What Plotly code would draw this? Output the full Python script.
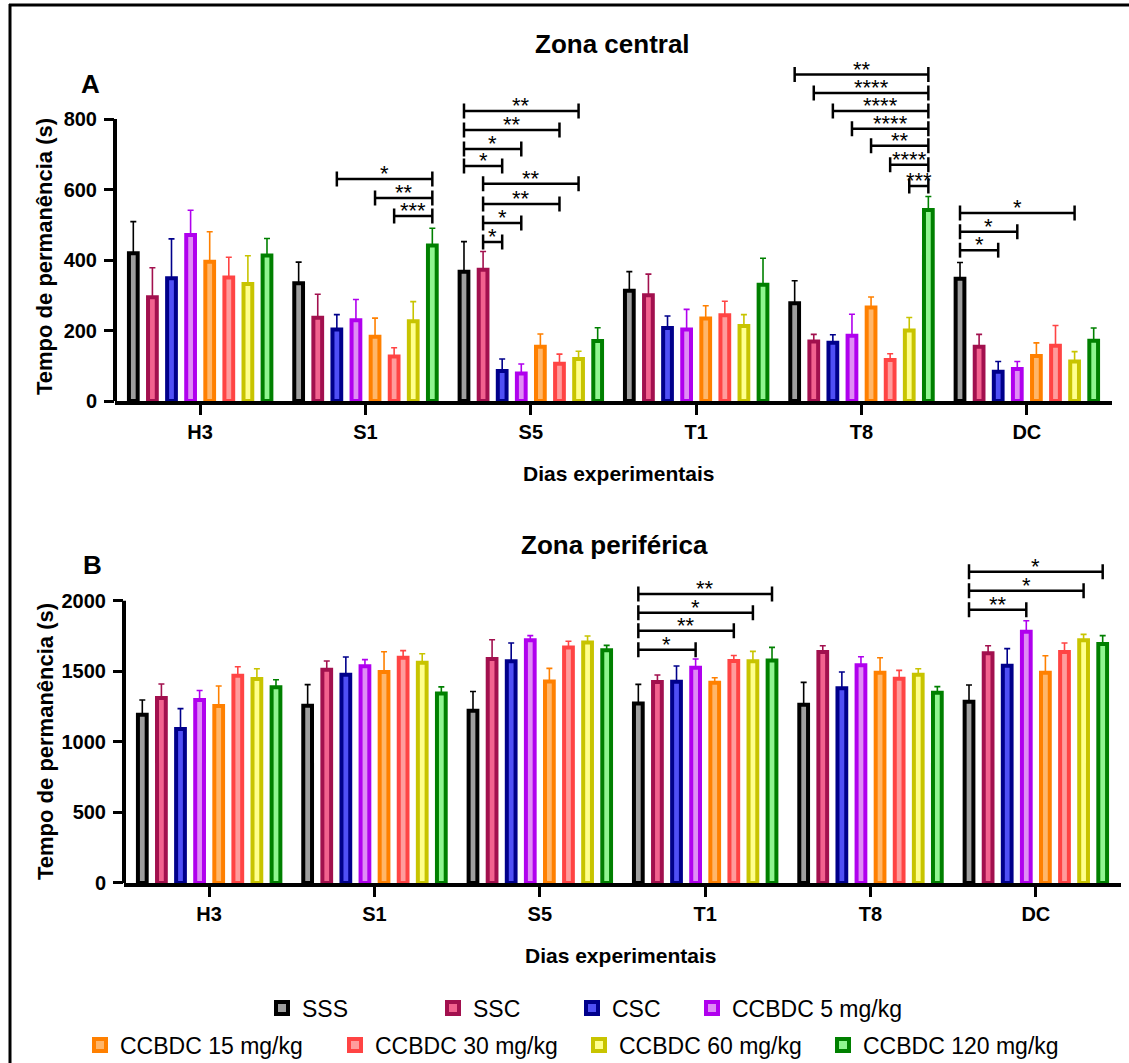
import plotly.graph_objects as go

W, H = 1129, 1063


def px(x):
    return x / W


def py(y):
    return 1 - y / H


# ---------------- data ----------------
days = ["H3", "S1", "S5", "T1", "T8", "DC"]
groups = ["SSS", "SSC", "CSC", "CCBDC 5 mg/kg", "CCBDC 15 mg/kg",
          "CCBDC 30 mg/kg", "CCBDC 60 mg/kg", "CCBDC 120 mg/kg"]

# Zona central (mean, SEM) per group, order of days
central_sss = [419, 334, 367, 313, 277, 347]
central_sss_sem = [90, 60, 85, 54, 64, 46]
central_ssc = [294, 236, 372, 300, 169, 154]
central_ssc_sem = [84, 67, 52, 60, 20, 35]
central_csc = [348, 203, 85, 207, 165, 83]
central_csc_sem = [112, 42, 34, 34, 23, 29]
central_c5 = [471, 229, 78, 203, 185, 91]
central_c5_sem = [70, 59, 27, 57, 61, 21]
central_c15 = [395, 182, 154, 234, 265, 128]
central_c15_sem = [85, 53, 36, 36, 30, 37]
central_c30 = [350, 126, 106, 243, 116, 157]
central_c30_sem = [58, 25, 27, 40, 18, 57]
central_c60 = [332, 226, 119, 213, 200, 112]
central_c60_sem = [80, 56, 22, 32, 37, 28]
central_c120 = [413, 441, 170, 330, 542, 171]
central_c120_sem = [48, 49, 38, 75, 38, 36]

# Zona periférica
perif_sss = [1192, 1256, 1221, 1272, 1263, 1284]
perif_sss_sem = [104, 149, 136, 135, 158, 119]
perif_ssc = [1310, 1511, 1587, 1424, 1636, 1627]
perif_ssc_sem = [100, 62, 136, 49, 45, 54]
perif_csc = [1091, 1476, 1570, 1426, 1379, 1539]
perif_csc_sem = [144, 125, 130, 111, 116, 121]
perif_c5 = [1296, 1535, 1719, 1525, 1542, 1780]
perif_c5_sem = [68, 47, 33, 62, 61, 78]
perif_c15 = [1254, 1495, 1428, 1419, 1490, 1490]
perif_c15_sem = [141, 143, 92, 35, 106, 120]
perif_c30 = [1468, 1596, 1669, 1573, 1447, 1636]
perif_c30_sem = [64, 50, 43, 39, 59, 64]
perif_c60 = [1445, 1560, 1704, 1570, 1476, 1719]
perif_c60_sem = [73, 64, 46, 71, 42, 42]
perif_c120 = [1386, 1343, 1648, 1577, 1348, 1693]
perif_c120_sem = [54, 46, 35, 92, 43, 59]

# significance: (day, group_from, group_to, bracket level, label)
central_sig = [
    ("S1", 2, 7, 630, "*"), ("S1", 4, 7, 576, "**"), ("S1", 5, 7, 525, "***"),
    ("S5", 0, 6, 823, "**"), ("S5", 0, 5, 769, "**"), ("S5", 0, 3, 715, "*"),
    ("S5", 0, 2, 667, "*"), ("S5", 1, 6, 616, "**"), ("S5", 1, 5, 559, "**"),
    ("S5", 1, 3, 505, "*"), ("S5", 1, 2, 451, "*"),
    ("T8", 0, 7, 926, "**"), ("T8", 1, 7, 874, "****"), ("T8", 2, 7, 823, "****"),
    ("T8", 3, 7, 772, "****"), ("T8", 4, 7, 724, "**"), ("T8", 5, 7, 670, "****"),
    ("T8", 6, 7, 610, "***"),
    ("DC", 0, 6, 533, "*"), ("DC", 0, 3, 480, "*"), ("DC", 0, 2, 428, "*"),
]
perif_sig = [
    ("T1", 0, 7, 2047, "**"), ("T1", 0, 6, 1915, "*"), ("T1", 0, 5, 1787, "**"),
    ("T1", 0, 3, 1653, "*"),
    ("DC", 0, 7, 2205, "*"), ("DC", 0, 6, 2071, "*"), ("DC", 0, 3, 1936, "**"),
]

# ---------------- styles ----------------
edge_colors = ["#000000", "#A2104E", "#00008B", "#B000EE",
               "#FF8000", "#FF4444", "#C8C400", "#008000"]
fill_colors = ["#9E9E9E", "#F2628F", "#4F4FF5", "#E08CF5",
               "#FFB66A", "#FF9C9C", "#FFFF8C", "#90F590"]

central_means = [central_sss, central_ssc, central_csc, central_c5,
                 central_c15, central_c30, central_c60, central_c120]
central_sems = [central_sss_sem, central_ssc_sem, central_csc_sem, central_c5_sem,
                central_c15_sem, central_c30_sem, central_c60_sem, central_c120_sem]
perif_means = [perif_sss, perif_ssc, perif_csc, perif_c5,
               perif_c15, perif_c30, perif_c60, perif_c120]
perif_sems = [perif_sss_sem, perif_ssc_sem, perif_csc_sem, perif_c5_sem,
              perif_c15_sem, perif_c30_sem, perif_c60_sem, perif_c120_sem]

STEP = 0.1155
BW = 0.0530
FONT = "Liberation Sans, Arial, Helvetica, sans-serif"


def xpos(day_idx, k):
    return day_idx + (k - 3.5) * STEP


fig = go.Figure()

legend_ids = ["legend"] + [f"legend{i}" for i in range(2, 9)]

for panel, (means, sems, xa, ya) in enumerate([
        (central_means, central_sems, "x", "y"),
        (perif_means, perif_sems, "x2", "y2")]):
    for k, name in enumerate(groups):
        fig.add_trace(go.Bar(
            x=[xpos(d, k) for d in range(len(days))],
            y=means[k],
            width=BW,
            name=name,
            marker=dict(color=fill_colors[k], line=dict(color=edge_colors[k], width=4)),
            error_y=dict(type="data", array=sems[k], arrayminus=[0] * len(days),
                         symmetric=False, color=edge_colors[k], thickness=1.6, width=3),
            xaxis=xa, yaxis=ya,
            showlegend=(panel == 0),
            legend=legend_ids[k],
        ))

shapes = []
annotations = []

# panel geometry (pixels)
TOP_Y0, TOP_YMAX = 401.0, 960
BOT_Y0, BOT_YMAX = 883.0, 2300
TOP_PPU = 0.3525
BOT_PPU = 0.14117

# brackets
for sig, xr, yr, ppu in [(central_sig, "x", "y", TOP_PPU),
                         (perif_sig, "x2", "y2", BOT_PPU)]:
    d = 7.5 / ppu
    for day, a, b, lvl, lab in sig:
        di = days.index(day)
        x0, x1 = xpos(di, a), xpos(di, b)
        ln = dict(color="black", width=2.5)
        shapes.append(dict(type="line", xref=xr, yref=yr, x0=x0, x1=x1, y0=lvl, y1=lvl, line=ln))
        shapes.append(dict(type="line", xref=xr, yref=yr, x0=x0, x1=x0, y0=lvl - d, y1=lvl + d, line=ln))
        shapes.append(dict(type="line", xref=xr, yref=yr, x0=x1, x1=x1, y0=lvl - d, y1=lvl + d, line=ln))
        annotations.append(dict(xref=xr, yref=yr, x=(x0 + x1) / 2, y=lvl, text=lab,
                                showarrow=False, yanchor="bottom", yshift=-9,
                                font=dict(family=FONT, size=22, color="black")))

# y axis lines (only up to the last tick)
shapes.append(dict(type="line", xref="paper", yref="y", x0=px(115), x1=px(115), y0=-6, y1=800,
                   line=dict(color="black", width=4)))
shapes.append(dict(type="line", xref="paper", yref="y2", x0=px(124), x1=px(124), y0=-14, y1=2000,
                   line=dict(color="black", width=4)))

# outer frame (left and top)
shapes.append(dict(type="line", xref="paper", yref="paper", x0=px(10), x1=px(10), y0=py(4), y1=0,
                   line=dict(color="black", width=3)))
shapes.append(dict(type="line", xref="paper", yref="paper", x0=px(9), x1=1, y0=py(5), y1=py(5),
                   line=dict(color="black", width=3)))


def text_ann(x, y, t, size, bold=True, angle=0):
    return dict(xref="paper", yref="paper", x=px(x), y=py(y), text=t, showarrow=False,
                xanchor="center", yanchor="middle", textangle=angle,
                font=dict(family=FONT, size=size, color="black",
                          weight="bold" if bold else "normal"))


annotations += [
    text_ann(612, 44, "Zona central", 26),
    text_ann(90, 84, "A", 26),
    text_ann(614, 545, "Zona periférica", 26),
    text_ann(92, 565, "B", 26),
    text_ann(618, 473, "Dias experimentais", 21),
    text_ann(620, 955, "Dias experimentais", 21),
    text_ann(45, 257, "Tempo de permanência (s)", 22, angle=-90),
    text_ann(45, 742, "Tempo de permanência (s)", 22, angle=-90),
]

tickfont = dict(family=FONT, size=20, color="black", weight="bold")
xcommon = dict(range=[-0.515, 5.515], tickvals=list(range(len(days))), ticktext=days,
               ticks="outside", ticklen=10, tickwidth=3, tickcolor="black",
               showline=True, linewidth=4, linecolor="black", showgrid=False,
               zeroline=False, tickfont=tickfont, automargin=False, ticklabelstandoff=0)
ycommon = dict(ticks="outside", ticklen=10, tickwidth=3, tickcolor="black",
               showline=False, showgrid=False, zeroline=False, tickfont=tickfont,
               automargin=False, ticklabelstandoff=3)

layout = dict(
    width=W, height=H,
    margin=dict(l=0, r=0, t=0, b=0, autoexpand=False),
    paper_bgcolor="white", plot_bgcolor="white",
    barmode="overlay",
    xaxis=dict(domain=[px(115), px(1112)], anchor="y", **xcommon),
    yaxis=dict(domain=[py(TOP_Y0), py(TOP_Y0 - TOP_YMAX * TOP_PPU)], anchor="x",
               range=[0, TOP_YMAX], tickvals=[0, 200, 400, 600, 800], **ycommon),
    xaxis2=dict(domain=[px(124), px(1121)], anchor="y2", **xcommon),
    yaxis2=dict(domain=[py(BOT_Y0), py(BOT_Y0 - BOT_YMAX * BOT_PPU)], anchor="x2",
                range=[0, BOT_YMAX], tickvals=[0, 500, 1000, 1500, 2000], **ycommon),
    shapes=shapes,
    annotations=annotations,
)

# one legend per entry so the two rows sit where the reference has them
legend_pos = [(284, 1008), (455, 1008), (594, 1008), (714, 1008),
              (102, 1045), (357, 1045), (601, 1045), (845, 1045)]
for lid, (bx, by) in zip(legend_ids, legend_pos):
    layout[lid] = dict(x=px(bx - 22), y=py(by), xanchor="left", yanchor="middle",
                       orientation="h", bgcolor="rgba(0,0,0,0)", borderwidth=0,
                       font=dict(family=FONT, size=23, color="black"),
                       itemwidth=30, tracegroupgap=0)

fig.update_layout(**layout)
fig.write_html("out.html", post_script="document.body.style.margin='0';",
               config={"displayModeBar": False})
